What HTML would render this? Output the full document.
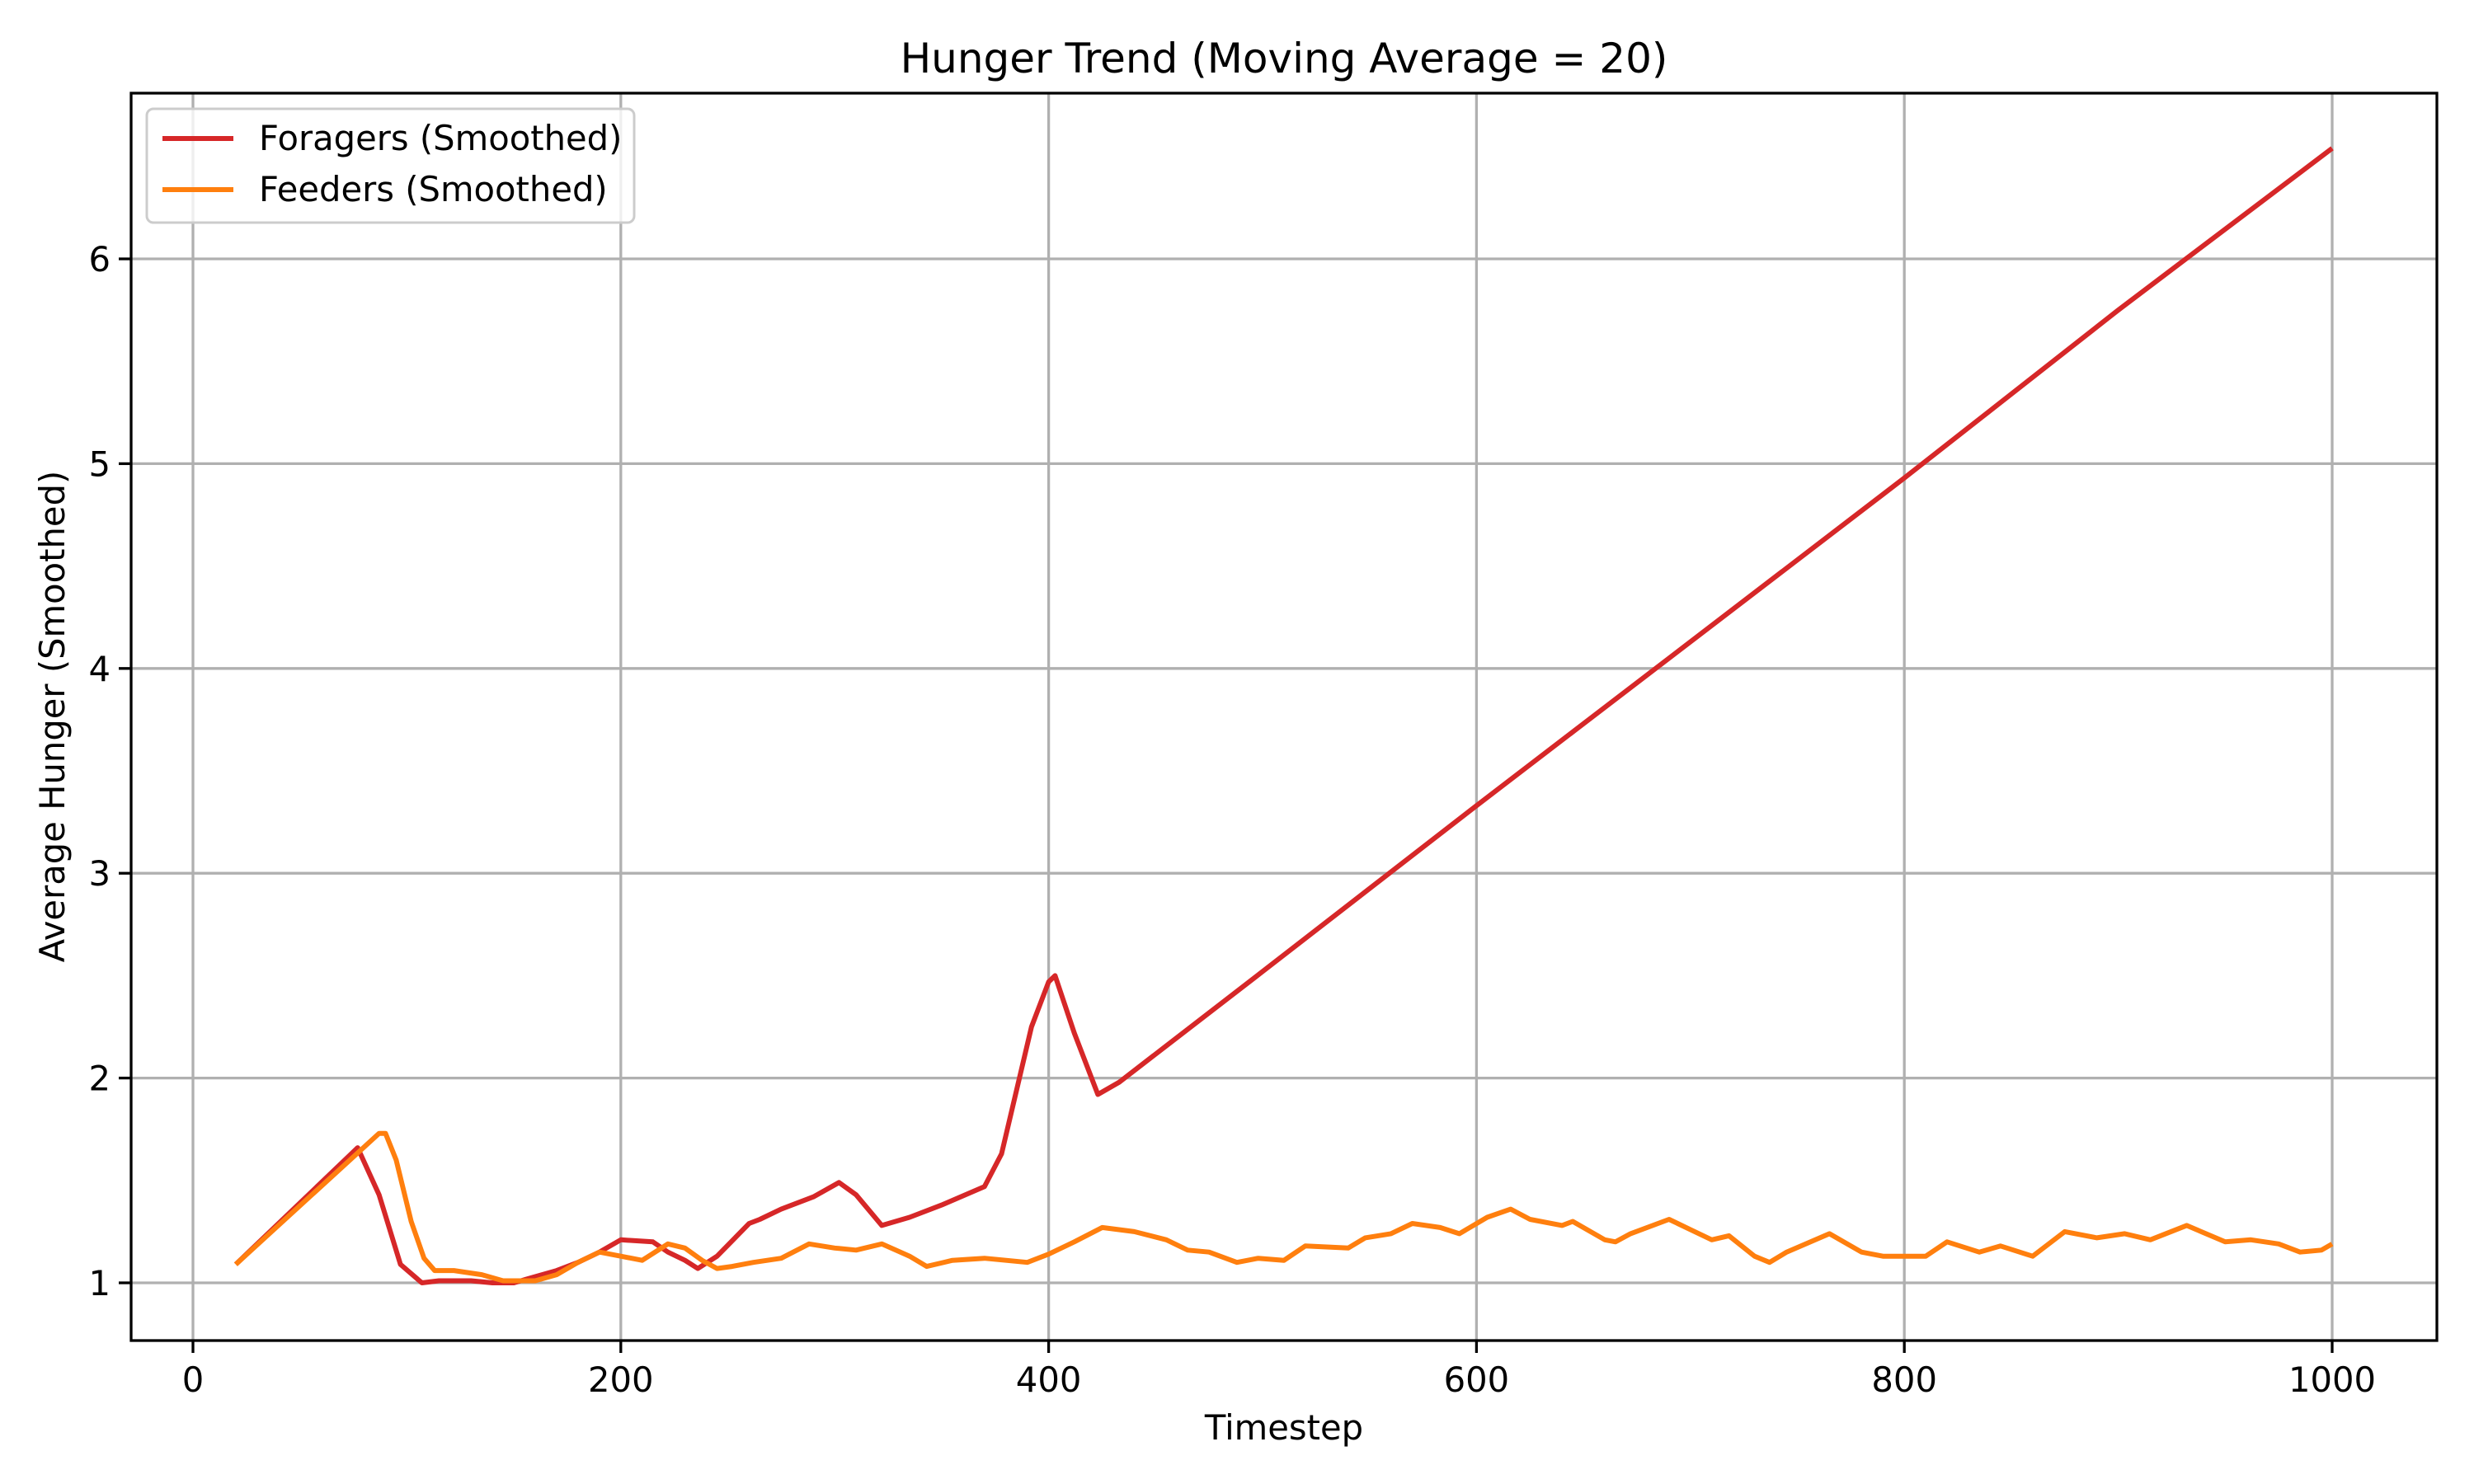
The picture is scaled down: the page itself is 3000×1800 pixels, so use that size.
<!DOCTYPE html>
<html><head><meta charset="utf-8"><style>
html,body{margin:0;padding:0;background:#fff;}
svg{display:block;font-family:"DejaVu Sans","Liberation Sans",sans-serif;}
</style></head><body>
<svg id="chart" width="3000" height="1800" viewBox="0 0 3000 1800">
<rect width="3000" height="1800" fill="#fff"/>
<g id="grid"></g>
<g id="series"></g>
<rect x="159" y="113" width="2796" height="1513" fill="none" stroke="#000" stroke-width="3.3"/>
<g id="ticks"></g>
<text x="1557" y="88" font-size="50" text-anchor="middle">Hunger Trend (Moving Average = 20)</text>
<text x="1557" y="1746" font-size="41.7" text-anchor="middle">Timestep</text>
<text x="0" y="0" font-size="41.7" text-anchor="middle" transform="translate(78,869) rotate(-90)">Average Hunger (Smoothed)</text>
<g>
<rect x="178" y="132" width="591" height="138" rx="8" fill="#fff" fill-opacity="0.8" stroke="#ccc" stroke-width="3"/>
<line x1="197" y1="168" x2="283" y2="168" stroke="#d62728" stroke-width="6"/>
<text x="314" y="182" font-size="41.7">Foragers (Smoothed)</text>
<line x1="197" y1="230" x2="283" y2="230" stroke="#ff7f0e" stroke-width="6"/>
<text x="314" y="244" font-size="41.7">Feeders (Smoothed)</text>
</g>
</svg>
<script>
const xTicks=[0,200,400,600,800,1000];
const yTicks=[1,2,3,4,5,6];
const foragerT=[20,77,87,97,107,115,130,140,150,160,170,180,190,200,215,222,230,236,245,260,265,275,290,302,310,322,335,350,370,378,392,400,403,412,423,433,500,600,700,800,900,1000];
const foragerV=[1.09,1.66,1.43,1.09,1.0,1.01,1.01,1.0,1.0,1.03,1.06,1.1,1.15,1.21,1.2,1.15,1.11,1.07,1.13,1.29,1.31,1.36,1.42,1.49,1.43,1.28,1.32,1.38,1.47,1.63,2.25,2.47,2.5,2.22,1.92,1.98,2.52,3.33,4.13,4.93,5.75,6.54];
const feederT=[20,87,90,95,102,108,113,122,135,145,160,170,180,190,200,210,222,230,238,245,252,262,275,288,300,310,322,335,343,355,370,390,400,412,425,440,455,465,475,488,498,510,520,540,548,560,570,583,592,605,616,625,640,645,660,665,672,690,700,710,718,730,737,745,765,780,790,810,820,835,845,860,875,890,903,915,932,950,962,975,985,995,1000];
const feederV=[1.09,1.73,1.73,1.6,1.3,1.12,1.06,1.06,1.04,1.01,1.01,1.04,1.1,1.15,1.13,1.11,1.19,1.17,1.11,1.07,1.08,1.1,1.12,1.19,1.17,1.16,1.19,1.13,1.08,1.11,1.12,1.1,1.14,1.2,1.27,1.25,1.21,1.16,1.15,1.1,1.12,1.11,1.18,1.17,1.22,1.24,1.29,1.27,1.24,1.32,1.36,1.31,1.28,1.3,1.21,1.2,1.24,1.31,1.26,1.21,1.23,1.13,1.1,1.15,1.24,1.15,1.13,1.13,1.2,1.15,1.18,1.13,1.25,1.22,1.24,1.21,1.28,1.2,1.21,1.19,1.15,1.16,1.19];
const NS='http://www.w3.org/2000/svg';
function sx(t){return 234+t*2.594;}
function sy(v){return 1556-(v-1)*248.4;}
const grid=document.getElementById('grid'),ticks=document.getElementById('ticks'),series=document.getElementById('series');
function mk(tag,attrs,parent){const e=document.createElementNS(NS,tag);for(const k in attrs)e.setAttribute(k,attrs[k]);parent.appendChild(e);return e;}
xTicks.forEach(t=>{
 const g=mk('line',{x1:sx(t),x2:sx(t),y1:113,y2:1626,stroke:'#b0b0b0','stroke-width':3.3},grid);
 
 
 const tk=mk('line',{x1:sx(t),x2:sx(t),y1:1626,y2:1641,stroke:'#000','stroke-width':3.3},ticks);
 
 
 const lb=mk('text',{x:sx(t),y:1688,'font-size':41.7,'text-anchor':'middle'},ticks);lb.textContent=t;
 
 
});
yTicks.forEach(v=>{
 const g=mk('line',{x1:159,x2:2955,y1:sy(v),y2:sy(v),stroke:'#b0b0b0','stroke-width':3.3},grid);
 
 
 const tk=mk('line',{x1:144,x2:159,y1:sy(v),y2:sy(v),stroke:'#000','stroke-width':3.3},ticks);
 
 
 const lb=mk('text',{x:134,y:sy(v)+15,'font-size':41.7,'text-anchor':'end'},ticks);lb.textContent=v;
 
 
});
function line(T,V,color,name){
 const d=T.map((t,i)=>(i?'L':'M')+sx(t).toFixed(1)+','+sy(V[i]).toFixed(1)).join('');
 const p=mk('path',{d:d,fill:'none',stroke:color,'stroke-width':6,'stroke-linejoin':'round'},series);
 
 
}
line(foragerT,foragerV,'#d62728','foragers-line');
line(feederT,feederV,'#ff7f0e','feeders-line');
</script>
</body></html>
